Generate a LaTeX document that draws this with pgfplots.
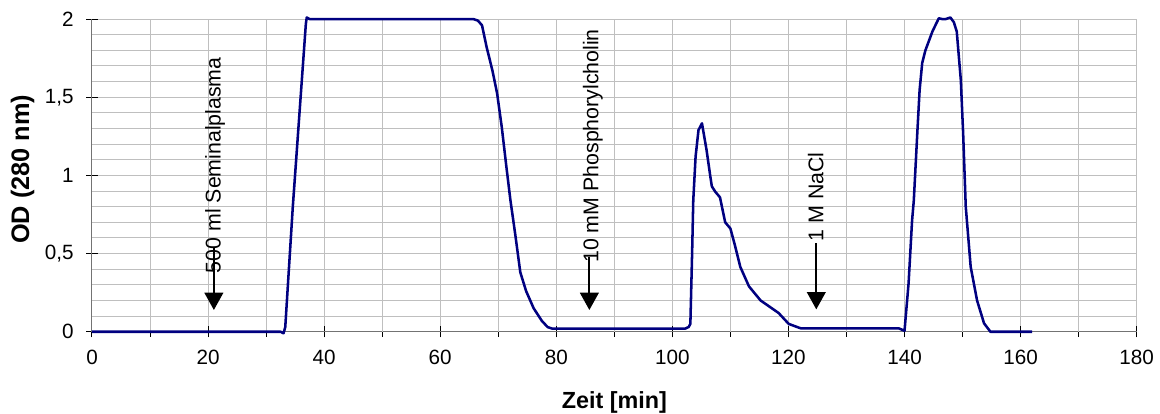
\documentclass[border=0pt]{standalone}
\usepackage{fontspec}
\setmainfont{Liberation Sans}
\usepackage{pgfplots}
\pgfplotsset{compat=1.18}
\usetikzlibrary{arrows.meta}
\definecolor{curve}{RGB}{0,0,128}
\begin{document}
\begin{tikzpicture}
\useasboundingbox (-69pt,-61.7pt) rectangle (801pt,248.8pt);
\begin{axis}[
  at={(0,0)}, anchor=south west,
  scale only axis, width=783.5pt, height=234.5pt,
  xmin=0, xmax=180, ymin=0, ymax=2,
  xtick={0,20,40,60,80,100,120,140,160,180},
  ytick={0,0.5,1,1.5,2},
  minor y tick num=4,
  extra x ticks={10,30,50,70,90,110,130,150,170},
  extra x tick labels={},
  extra x tick style={grid=major, tick align=outside, major tick length=3.75pt},
  grid=both,
  major grid style={gray!50, line width=0.75pt},
  minor grid style={gray!50, line width=0.75pt},
  minor tick length=0pt,
  major tick length=8.5pt,
  tick align=center,
  axis x line*=bottom, axis y line*=left,
  axis line style={black!55, line width=0.75pt},
  tick style={black, line width=0.75pt},
  clip=false,
  /pgf/number format/.cd, use comma, assume math mode=true,
  /pgfplots/.cd,
  ticklabel style={font=\fontsize{15.5}{17}\selectfont},
  xticklabel style={anchor=base, yshift=-20.5pt},
  yticklabel style={anchor=east, xshift=-6pt},
  xlabel={\textbf{Zeit [min]}},
  ylabel={\textbf{OD (280 nm)}},
  xlabel style={at={(axis description cs:0.5,0)}, anchor=base, yshift=-57.5pt, font=\fontsize{17.5}{19}\selectfont},
  ylabel style={at={(axis description cs:0,0.52)}, anchor=center, yshift=52pt, font=\fontsize{19}{21}\selectfont},
]
\addplot[curve, line width=1.9pt, line join=round] coordinates {
(0,0) (32.5,0) (33.0,-0.01) (33.3,0.03) (34.6,0.8) (36.85,1.97) (37.0,2.01) (37.5,2.0)
(65.7,2.0) (66.5,1.99) (67.2,1.96) (68.0,1.82) (69.0,1.67) (69.8,1.525) (70.6,1.31) (71.4,1.055) (72.1,0.84)
(72.9,0.63) (73.8,0.38) (74.8,0.26) (76.1,0.15) (77.5,0.07) (78.5,0.03) (79.3,0.02) (102.2,0.02) (102.8,0.03)
(103.1,0.05) (103.4,0.5) (103.6,0.84) (104.0,1.12) (104.5,1.29) (105.1,1.333) (105.9,1.16)
(106.55,0.99) (106.8,0.93) (107.4,0.895) (108.2,0.86) (109.1,0.70) (110.0,0.66) (110.8,0.55)
(111.7,0.415) (113.2,0.29) (115.2,0.20) (118.3,0.12) (120.05,0.05) (122.1,0.022) (139.0,0.022)
(140.0,0.006) (140.7,0.31) (141.3,0.71) (141.6,0.84) (142.2,1.27) (142.6,1.546) (143.05,1.72)
(143.6,1.80) (144.8,1.92) (145.9,2.005) (146.5,2.0) (147.1,2.0) (147.9,2.01) (148.5,1.98)
(149.0,1.92) (149.7,1.61) (150.1,1.27) (150.55,0.8) (151.4,0.415) (152.5,0.20) (153.7,0.054)
(154.8,0.0) (162.0,0.0)
};
\draw[line width=1.5pt, -{Triangle[width=14pt,length=13pt]}] (axis cs:21,0.535) -- (axis cs:21,0.139);
\draw[line width=1.5pt, -{Triangle[width=14pt,length=13pt]}] (axis cs:85.7,0.48) -- (axis cs:85.7,0.139);
\draw[line width=1.5pt, -{Triangle[width=14pt,length=13pt]}] (axis cs:124.8,0.565) -- (axis cs:124.8,0.143);
\node[rotate=90, anchor=west, inner sep=0pt, font=\fontsize{16}{16}\selectfont] at (axis cs:21.2,0.373) {500 ml Seminalplasma};
\node[rotate=90, anchor=west, inner sep=0pt, font=\fontsize{16}{16}\selectfont] at (axis cs:86.3,0.44) {10 mM Phosphorylcholin};
\node[rotate=90, anchor=west, inner sep=0pt, font=\fontsize{16}{16}\selectfont] at (axis cs:124.7,0.576) {1 M NaCl};
\end{axis}
\end{tikzpicture}
\end{document}
